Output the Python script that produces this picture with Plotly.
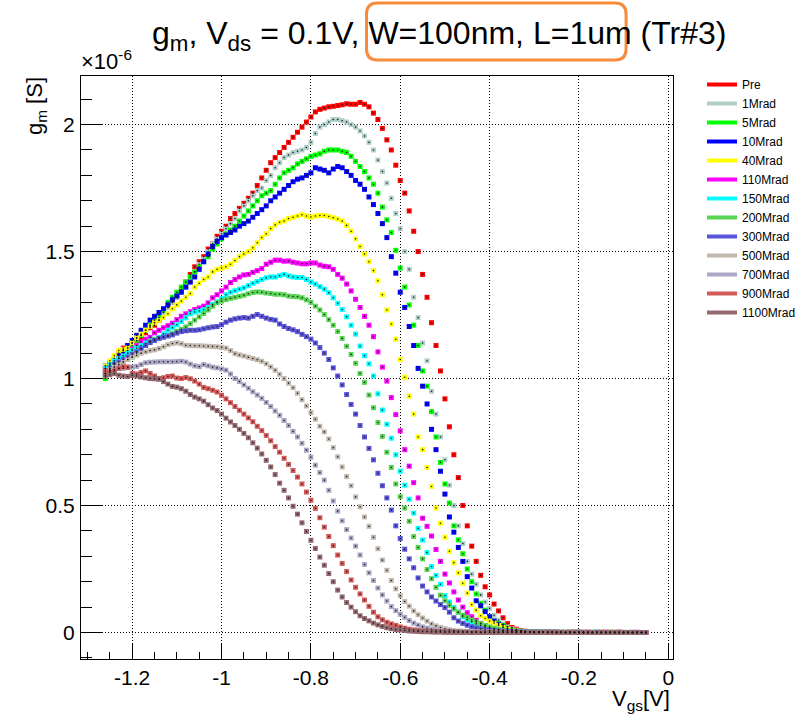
import plotly.graph_objects as go

# Gate-voltage sweep [V]
VGS = [
    -1.26, -1.25, -1.24, -1.23, -1.22, -1.21, -1.20, -1.19, -1.18, -1.17,
    -1.16, -1.15, -1.14, -1.13, -1.12, -1.11, -1.10, -1.09, -1.08, -1.07,
    -1.06, -1.05, -1.04, -1.03, -1.02, -1.01, -1.00, -0.99, -0.98, -0.97,
    -0.96, -0.95, -0.94, -0.93, -0.92, -0.91, -0.90, -0.89, -0.88, -0.87,
    -0.86, -0.85, -0.84, -0.83, -0.82, -0.81, -0.80, -0.79, -0.78, -0.77,
    -0.76, -0.75, -0.74, -0.73, -0.72, -0.71, -0.70, -0.69, -0.68, -0.67,
    -0.66, -0.65, -0.64, -0.63, -0.62, -0.61, -0.60, -0.59, -0.58, -0.57,
    -0.56, -0.55, -0.54, -0.53, -0.52, -0.51, -0.50, -0.49, -0.48, -0.47,
    -0.46, -0.45, -0.44, -0.43, -0.42, -0.41, -0.40, -0.39, -0.38, -0.37,
    -0.36, -0.35, -0.34, -0.33, -0.32, -0.31, -0.30, -0.29, -0.28, -0.27,
    -0.26, -0.25, -0.24, -0.23, -0.22, -0.21, -0.20, -0.19, -0.18, -0.17,
    -0.16, -0.15, -0.14, -0.13, -0.12, -0.11, -0.10, -0.09, -0.08, -0.07,
    -0.06, -0.05,
]

# Transconductance per dose step, in units of 1e-6 S
GM_PRE = [
    1.04, 1.06, 1.08, 1.10, 1.12, 1.13, 1.14, 1.15, 1.16, 1.18,
    1.20, 1.21, 1.23, 1.26, 1.28, 1.30, 1.32, 1.35, 1.38, 1.41,
    1.44, 1.46, 1.48, 1.51, 1.53, 1.56, 1.58, 1.60, 1.63, 1.65,
    1.67, 1.69, 1.71, 1.73, 1.76, 1.79, 1.82, 1.85, 1.87, 1.89,
    1.91, 1.93, 1.95, 1.97, 1.99, 2.01, 2.03, 2.05, 2.06, 2.065,
    2.07, 2.072, 2.075, 2.078, 2.082, 2.08, 2.08, 2.087, 2.08, 2.07,
    2.045, 2.02, 1.985, 1.94, 1.90, 1.84, 1.78, 1.73, 1.66, 1.58,
    1.50, 1.41, 1.32, 1.22, 1.13, 1.03, 0.92, 0.81, 0.70, 0.61,
    0.50, 0.42, 0.34, 0.28, 0.225, 0.18, 0.148, 0.112, 0.085, 0.058,
    0.035, 0.020, 0.013, 0.008, 0.005, 0.003, 0.002, 0.002, 0.001, 0.001,
    0.001, 0.001, 0.000, 0.001, 0.000, 0.001, 0.000, 0.000, 0.001, 0.000,
    0.000, 0.001, 0.000, 0.000, 0.000, 0.001, 0.000, 0.000, 0.000, 0.000,
    0.000, 0.000,
]
GM_1M = [
    1.02, 1.04, 1.06, 1.09, 1.11, 1.12, 1.14, 1.16, 1.17, 1.19,
    1.21, 1.22, 1.24, 1.26, 1.28, 1.30, 1.32, 1.34, 1.36, 1.38,
    1.42, 1.45, 1.47, 1.50, 1.53, 1.55, 1.57, 1.59, 1.61, 1.63,
    1.66, 1.68, 1.70, 1.72, 1.74, 1.75, 1.78, 1.80, 1.83, 1.85,
    1.87, 1.88, 1.89, 1.895, 1.90, 1.91, 1.93, 1.965, 1.99, 2.00,
    2.01, 2.02, 2.02, 2.015, 2.01, 2.00, 1.99, 1.975, 1.955, 1.93,
    1.90, 1.86, 1.815, 1.77, 1.71, 1.65, 1.59, 1.50, 1.43, 1.32,
    1.24, 1.14, 1.07, 0.95, 0.86, 0.77, 0.68, 0.58, 0.50, 0.42,
    0.35, 0.28, 0.23, 0.19, 0.148, 0.12, 0.095, 0.068, 0.048, 0.033,
    0.022, 0.014, 0.009, 0.006, 0.004, 0.003, 0.002, 0.002, 0.001, 0.001,
    0.001, 0.001, 0.001, 0.000, 0.001, 0.000, 0.000, 0.001, 0.000, 0.000,
    0.001, 0.000, 0.000, 0.000, 0.001, 0.000, 0.000, 0.000, 0.000, 0.000,
    0.000, 0.000,
]
GM_5M = [
    1.00, 1.03, 1.06, 1.08, 1.10, 1.11, 1.13, 1.15, 1.17, 1.19,
    1.21, 1.23, 1.25, 1.27, 1.30, 1.32, 1.34, 1.36, 1.38, 1.40,
    1.42, 1.44, 1.46, 1.48, 1.51, 1.53, 1.55, 1.57, 1.585, 1.60,
    1.62, 1.64, 1.66, 1.68, 1.70, 1.72, 1.73, 1.74, 1.765, 1.79,
    1.81, 1.82, 1.83, 1.845, 1.855, 1.865, 1.875, 1.88, 1.885, 1.895,
    1.90, 1.90, 1.90, 1.895, 1.89, 1.875, 1.855, 1.835, 1.815, 1.79,
    1.765, 1.73, 1.675, 1.625, 1.575, 1.505, 1.435, 1.36, 1.29, 1.21,
    1.13, 1.03, 0.97, 0.87, 0.77, 0.67, 0.585, 0.51, 0.42, 0.365,
    0.31, 0.25, 0.20, 0.152, 0.115, 0.088, 0.062, 0.045, 0.035, 0.028,
    0.018, 0.012, 0.008, 0.005, 0.004, 0.003, 0.002, 0.002, 0.001, 0.001,
    0.001, 0.000, 0.001, 0.001, 0.000, 0.000, 0.001, 0.000, 0.000, 0.001,
    0.000, 0.000, 0.000, 0.001, 0.000, 0.000, 0.000, 0.000, 0.000, 0.000,
    0.000, 0.000,
]
GM_10M = [
    1.05, 1.06, 1.07, 1.09, 1.11, 1.13, 1.15, 1.17, 1.19, 1.21,
    1.23, 1.245, 1.26, 1.275, 1.29, 1.31, 1.325, 1.34, 1.36, 1.38,
    1.40, 1.43, 1.46, 1.49, 1.52, 1.54, 1.555, 1.565, 1.575, 1.585,
    1.60, 1.61, 1.62, 1.635, 1.65, 1.665, 1.68, 1.70, 1.715, 1.73,
    1.745, 1.76, 1.775, 1.785, 1.79, 1.80, 1.81, 1.83, 1.825, 1.82,
    1.81, 1.825, 1.835, 1.83, 1.815, 1.80, 1.78, 1.765, 1.745, 1.715,
    1.685, 1.65, 1.61, 1.555, 1.48, 1.415, 1.34, 1.28, 1.205, 1.13,
    1.04, 0.97, 0.90, 0.80, 0.72, 0.635, 0.545, 0.455, 0.395, 0.335,
    0.28, 0.22, 0.175, 0.125, 0.105, 0.082, 0.062, 0.045, 0.032, 0.022,
    0.015, 0.010, 0.007, 0.005, 0.004, 0.003, 0.002, 0.002, 0.001, 0.001,
    0.001, 0.001, 0.000, 0.000, 0.001, 0.000, 0.001, 0.000, 0.000, 0.000,
    0.001, 0.000, 0.000, 0.000, 0.000, 0.001, 0.000, 0.000, 0.000, 0.000,
    0.000, 0.000,
]
GM_40M = [
    1.05, 1.07, 1.09, 1.11, 1.115, 1.12, 1.14, 1.16, 1.175, 1.19,
    1.205, 1.22, 1.23, 1.24, 1.255, 1.275, 1.29, 1.305, 1.32, 1.335,
    1.36, 1.375, 1.39, 1.40, 1.42, 1.43, 1.435, 1.44, 1.45, 1.465,
    1.48, 1.49, 1.50, 1.515, 1.535, 1.555, 1.57, 1.59, 1.605, 1.615,
    1.62, 1.63, 1.635, 1.64, 1.645, 1.64, 1.636, 1.64, 1.642, 1.642,
    1.638, 1.633, 1.628, 1.62, 1.603, 1.58, 1.55, 1.52, 1.49, 1.46,
    1.425, 1.385, 1.33, 1.27, 1.215, 1.155, 1.075, 1.005, 0.93, 0.86,
    0.77, 0.72, 0.65, 0.575, 0.49, 0.43, 0.375, 0.32, 0.275, 0.235,
    0.194, 0.155, 0.11, 0.088, 0.066, 0.055, 0.045, 0.037, 0.028, 0.020,
    0.014, 0.010, 0.007, 0.005, 0.004, 0.003, 0.002, 0.002, 0.001, 0.001,
    0.001, 0.000, 0.001, 0.000, 0.001, 0.000, 0.000, 0.001, 0.000, 0.000,
    0.000, 0.001, 0.000, 0.000, 0.000, 0.000, 0.001, 0.000, 0.000, 0.000,
    0.000, 0.000,
]
GM_110M = [
    1.04, 1.05, 1.07, 1.08, 1.09, 1.10, 1.115, 1.13, 1.145, 1.155,
    1.162, 1.18, 1.19, 1.20, 1.208, 1.218, 1.232, 1.245, 1.255, 1.263,
    1.272, 1.278, 1.285, 1.298, 1.318, 1.33, 1.345, 1.36, 1.378, 1.39,
    1.40, 1.408, 1.41, 1.418, 1.425, 1.433, 1.45, 1.458, 1.466, 1.466,
    1.462, 1.463, 1.458, 1.455, 1.452, 1.452, 1.455, 1.455, 1.447, 1.442,
    1.44, 1.43, 1.41, 1.395, 1.372, 1.345, 1.312, 1.28, 1.245, 1.21,
    1.165, 1.105, 1.045, 0.99, 0.925, 0.858, 0.794, 0.72, 0.655, 0.59,
    0.53, 0.45, 0.418, 0.38, 0.327, 0.28, 0.23, 0.195, 0.16, 0.128,
    0.10, 0.078, 0.062, 0.048, 0.036, 0.027, 0.020, 0.015, 0.011, 0.008,
    0.006, 0.005, 0.004, 0.003, 0.002, 0.002, 0.002, 0.001, 0.001, 0.001,
    0.001, 0.000, 0.001, 0.000, 0.000, 0.001, 0.000, 0.000, 0.001, 0.000,
    0.000, 0.000, 0.001, 0.000, 0.000, 0.000, 0.000, 0.000, 0.001, 0.000,
    0.000, 0.000,
]
GM_150M = [
    1.04, 1.055, 1.07, 1.08, 1.09, 1.10, 1.11, 1.12, 1.13, 1.14,
    1.148, 1.155, 1.162, 1.176, 1.19, 1.20, 1.212, 1.225, 1.24, 1.255,
    1.262, 1.266, 1.271, 1.28, 1.292, 1.302, 1.315, 1.33, 1.34, 1.346,
    1.352, 1.357, 1.366, 1.375, 1.382, 1.39, 1.397, 1.40, 1.40, 1.405,
    1.41, 1.404, 1.40, 1.398, 1.398, 1.39, 1.38, 1.372, 1.362, 1.352,
    1.338, 1.318, 1.296, 1.272, 1.243, 1.21, 1.175, 1.128, 1.09, 1.058,
    1.01, 0.94, 0.876, 0.82, 0.765, 0.70, 0.635, 0.58, 0.525, 0.47,
    0.41, 0.364, 0.315, 0.26, 0.225, 0.19, 0.145, 0.12, 0.098, 0.08,
    0.062, 0.05, 0.042, 0.034, 0.028, 0.022, 0.017, 0.013, 0.010, 0.008,
    0.006, 0.005, 0.004, 0.003, 0.002, 0.002, 0.001, 0.001, 0.001, 0.001,
    0.000, 0.001, 0.000, 0.001, 0.000, 0.000, 0.001, 0.000, 0.000, 0.000,
    0.001, 0.000, 0.000, 0.000, 0.000, 0.000, 0.000, 0.001, 0.000, 0.000,
    0.000, 0.000,
]
GM_200M = [
    1.01, 1.03, 1.045, 1.055, 1.065, 1.075, 1.085, 1.10, 1.115, 1.13,
    1.145, 1.152, 1.158, 1.163, 1.168, 1.177, 1.186, 1.194, 1.203, 1.216,
    1.23, 1.243, 1.256, 1.27, 1.285, 1.298, 1.305, 1.311, 1.316, 1.32,
    1.324, 1.328, 1.334, 1.339, 1.341, 1.34, 1.337, 1.335, 1.332, 1.332,
    1.33, 1.325, 1.323, 1.322, 1.318, 1.31, 1.30, 1.285, 1.27, 1.252,
    1.232, 1.21, 1.185, 1.158, 1.127, 1.095, 1.06, 1.02, 0.985, 0.935,
    0.885, 0.827, 0.772, 0.71, 0.65, 0.585, 0.535, 0.49, 0.438, 0.378,
    0.335, 0.29, 0.248, 0.212, 0.178, 0.147, 0.125, 0.107, 0.093, 0.08,
    0.068, 0.06, 0.05, 0.042, 0.035, 0.028, 0.022, 0.017, 0.013, 0.010,
    0.008, 0.006, 0.005, 0.004, 0.003, 0.002, 0.002, 0.001, 0.001, 0.001,
    0.001, 0.000, 0.001, 0.000, 0.000, 0.001, 0.000, 0.000, 0.000, 0.001,
    0.000, 0.000, 0.000, 0.000, 0.001, 0.000, 0.000, 0.000, 0.000, 0.000,
    0.000, 0.000,
]
GM_300M = [
    1.02, 1.04, 1.055, 1.065, 1.075, 1.085, 1.095, 1.105, 1.118, 1.13,
    1.142, 1.15, 1.158, 1.163, 1.168, 1.172, 1.179, 1.185, 1.188, 1.19,
    1.19, 1.192, 1.196, 1.20, 1.203, 1.205, 1.212, 1.222, 1.23, 1.235,
    1.238, 1.24, 1.238, 1.245, 1.252, 1.245, 1.238, 1.233, 1.23, 1.215,
    1.205, 1.197, 1.192, 1.185, 1.174, 1.165, 1.155, 1.14, 1.122, 1.10,
    1.075, 1.042, 1.01, 0.975, 0.937, 0.898, 0.86, 0.815, 0.77, 0.725,
    0.68, 0.627, 0.578, 0.53, 0.482, 0.42, 0.37, 0.328, 0.29, 0.255,
    0.215, 0.183, 0.16, 0.14, 0.124, 0.11, 0.098, 0.08, 0.058, 0.045,
    0.036, 0.029, 0.023, 0.018, 0.014, 0.011, 0.009, 0.007, 0.006, 0.005,
    0.004, 0.003, 0.003, 0.002, 0.002, 0.002, 0.001, 0.001, 0.001, 0.001,
    0.000, 0.001, 0.000, 0.000, 0.001, 0.000, 0.000, 0.001, 0.000, 0.000,
    0.000, 0.000, 0.001, 0.000, 0.000, 0.000, 0.000, 0.000, 0.000, 0.001,
    0.000, 0.000,
]
GM_500M = [
    1.02, 1.035, 1.045, 1.055, 1.065, 1.075, 1.085, 1.092, 1.10, 1.105,
    1.11, 1.113, 1.118, 1.125, 1.133, 1.138, 1.141, 1.137, 1.131, 1.13,
    1.129, 1.129, 1.128, 1.127, 1.126, 1.125, 1.123, 1.12, 1.11, 1.098,
    1.093, 1.089, 1.084, 1.079, 1.074, 1.068, 1.058, 1.046, 1.033, 1.017,
    1.00, 0.982, 0.964, 0.942, 0.917, 0.892, 0.866, 0.84, 0.812, 0.79,
    0.762, 0.728, 0.692, 0.652, 0.614, 0.578, 0.534, 0.495, 0.455, 0.418,
    0.375, 0.33, 0.285, 0.245, 0.205, 0.172, 0.145, 0.122, 0.104, 0.085,
    0.07, 0.057, 0.045, 0.034, 0.026, 0.020, 0.015, 0.011, 0.008, 0.006,
    0.005, 0.004, 0.003, 0.003, 0.002, 0.002, 0.002, 0.001, 0.001, 0.001,
    0.001, 0.001, 0.000, 0.001, 0.000, 0.001, 0.000, 0.000, 0.001, 0.000,
    0.000, 0.001, 0.000, 0.000, 0.000, 0.001, 0.000, 0.000, 0.000, 0.000,
    0.001, 0.000, 0.000, 0.000, 0.000, 0.000, 0.001, 0.000, 0.000, 0.000,
    0.000, 0.000,
]
GM_700M = [
    1.02, 1.03, 1.035, 1.04, 1.04, 1.043, 1.045, 1.048, 1.055, 1.062,
    1.064, 1.065, 1.066, 1.066, 1.066, 1.066, 1.067, 1.068, 1.065, 1.057,
    1.05, 1.047, 1.055, 1.05, 1.045, 1.042, 1.038, 1.033, 1.018, 1.00,
    0.988, 0.975, 0.962, 0.948, 0.935, 0.922, 0.906, 0.89, 0.872, 0.855,
    0.835, 0.815, 0.792, 0.77, 0.745, 0.718, 0.69, 0.659, 0.63, 0.60,
    0.56, 0.518, 0.478, 0.44, 0.405, 0.372, 0.34, 0.305, 0.268, 0.235,
    0.205, 0.175, 0.148, 0.124, 0.102, 0.086, 0.072, 0.06, 0.047, 0.037,
    0.029, 0.022, 0.017, 0.013, 0.010, 0.008, 0.006, 0.005, 0.004, 0.003,
    0.003, 0.002, 0.002, 0.002, 0.001, 0.001, 0.001, 0.001, 0.000, 0.001,
    0.000, 0.001, 0.000, 0.000, 0.001, 0.000, 0.000, 0.000, 0.001, 0.000,
    0.000, 0.000, 0.001, 0.000, 0.000, 0.000, 0.000, 0.001, 0.000, 0.000,
    0.000, 0.000, 0.000, 0.000, 0.001, 0.000, 0.000, 0.000, 0.000, 0.000,
    0.000, 0.000,
]
GM_900M = [
    1.03, 1.025, 1.03, 1.04, 1.047, 1.045, 1.02, 1.018, 1.024, 1.03,
    1.02, 1.01, 1.00, 1.003, 1.008, 1.01, 1.002, 1.00, 1.004, 0.999,
    0.99, 0.978, 0.965, 0.96, 0.954, 0.947, 0.934, 0.92, 0.905, 0.89,
    0.875, 0.86, 0.845, 0.83, 0.812, 0.795, 0.776, 0.755, 0.732, 0.71,
    0.686, 0.662, 0.638, 0.612, 0.585, 0.553, 0.521, 0.489, 0.452, 0.415,
    0.378, 0.342, 0.305, 0.272, 0.24, 0.207, 0.178, 0.152, 0.128, 0.103,
    0.08, 0.062, 0.05, 0.04, 0.034, 0.028, 0.022, 0.017, 0.013, 0.010,
    0.008, 0.006, 0.005, 0.004, 0.003, 0.003, 0.002, 0.002, 0.001, 0.001,
    0.001, 0.001, 0.000, 0.001, 0.000, 0.001, 0.000, 0.000, 0.001, 0.000,
    0.000, 0.001, 0.000, 0.000, 0.000, 0.001, 0.000, 0.000, 0.000, 0.000,
    0.001, 0.000, 0.000, 0.000, 0.000, 0.000, 0.001, 0.000, 0.000, 0.000,
    0.000, 0.000, 0.000, 0.001, 0.000, 0.000, 0.000, 0.000, 0.000, 0.000,
    0.000, 0.000,
]
GM_1100M = [
    1.01, 1.015, 1.02, 1.013, 1.01, 1.008, 1.012, 1.01, 1.006, 1.003,
    1.00, 0.999, 0.997, 0.988, 0.978, 0.969, 0.966, 0.96, 0.95, 0.937,
    0.927, 0.92, 0.911, 0.897, 0.884, 0.874, 0.86, 0.844, 0.829, 0.815,
    0.80, 0.784, 0.767, 0.747, 0.726, 0.703, 0.678, 0.652, 0.622, 0.588,
    0.56, 0.53, 0.497, 0.466, 0.432, 0.398, 0.363, 0.331, 0.297, 0.265,
    0.232, 0.20, 0.167, 0.14, 0.118, 0.10, 0.082, 0.066, 0.055, 0.046,
    0.037, 0.03, 0.024, 0.019, 0.015, 0.012, 0.010, 0.008, 0.006, 0.005,
    0.004, 0.003, 0.003, 0.002, 0.002, 0.002, 0.001, 0.001, 0.001, 0.001,
    0.000, 0.001, 0.000, 0.001, 0.000, 0.000, 0.001, 0.000, 0.000, 0.001,
    0.000, 0.000, 0.000, 0.001, 0.000, 0.000, 0.000, 0.000, 0.001, 0.000,
    0.000, 0.000, 0.000, 0.000, 0.000, 0.001, 0.000, 0.000, 0.000, 0.000,
    0.000, 0.001, 0.000, 0.000, 0.000, 0.000, 0.000, 0.000, 0.000, 0.000,
    0.000, 0.000,
]

SERIES_NAMES = ["Pre", "1Mrad", "5Mrad", "10Mrad", "40Mrad", "110Mrad", "150Mrad",
                "200Mrad", "300Mrad", "500Mrad", "700Mrad", "900Mrad", "1100Mrad"]
SERIES_VALUES = [GM_PRE, GM_1M, GM_5M, GM_10M, GM_40M, GM_110M, GM_150M,
                 GM_200M, GM_300M, GM_500M, GM_700M, GM_900M, GM_1100M]
SERIES_COLORS = ["#ff0000", "#b0cfc9", "#00ff00", "#0000ff", "#ffff00", "#ff00ff", "#00ffff",
                 "#59d454", "#5954d9", "#c2b8ae", "#aba6c3", "#d45a5a", "#946970"]

X_TICKS = [-1.2, -1.0, -0.8, -0.6, -0.4, -0.2, 0.0]
X_TICK_TEXT = ["-1.2", "-1", "-0.8", "-0.6", "-0.4", "-0.2", "0"]
Y_TICKS = [0.0, 0.5, 1.0, 1.5, 2.0]
Y_TICK_TEXT = ["0", "0.5", "1", "1.5", "2"]

for vals in SERIES_VALUES:
    assert len(vals) == len(VGS), len(vals)

# Canvas and frame geometry (pixels)
FIG_W, FIG_H = 812, 715
FRAME_L, FRAME_R, FRAME_T, FRAME_B = 81, 674, 76, 659
FONT = "Liberation Sans"


def px_x(px):
    return (px - FRAME_L) / (FRAME_R - FRAME_L)


def px_y(py):
    return (FRAME_B - py) / (FRAME_B - FRAME_T)


def rounded_box(x0, y0, x1, y1, r):
    """SVG path (paper coords) for a rounded rectangle given in pixels."""
    X = px_x
    Y = px_y
    return (
        f"M {X(x0 + r)},{Y(y0)} L {X(x1 - r)},{Y(y0)} "
        f"Q {X(x1)},{Y(y0)} {X(x1)},{Y(y0 + r)} "
        f"L {X(x1)},{Y(y1 - r)} Q {X(x1)},{Y(y1)} {X(x1 - r)},{Y(y1)} "
        f"L {X(x0 + r)},{Y(y1)} Q {X(x0)},{Y(y1)} {X(x0)},{Y(y1 - r)} "
        f"L {X(x0)},{Y(y0 + r)} Q {X(x0)},{Y(y0)} {X(x0 + r)},{Y(y0)} Z"
    )


fig = go.Figure()

# coloured boxes for every measured point
for name, vals, col in zip(SERIES_NAMES, SERIES_VALUES, SERIES_COLORS):
    fig.add_trace(go.Scatter(
        x=VGS, y=vals, mode="markers", showlegend=False, hoverinfo="skip",
        marker=dict(symbol="square", size=5, color=col, line=dict(width=0)),
    ))

# black point markers on top
all_x, all_y = [], []
for vals in SERIES_VALUES:
    all_x += VGS
    all_y += vals
fig.add_trace(go.Scatter(
    x=all_x, y=all_y, mode="markers", showlegend=False, hoverinfo="skip",
    marker=dict(symbol="circle", size=1.6, color="#1a1a1a", line=dict(width=0)),
))

# legend entries drawn as thick line samples
for name, col in zip(SERIES_NAMES, SERIES_COLORS):
    fig.add_trace(go.Scatter(
        x=[None], y=[None], mode="lines", name=name,
        line=dict(color=col, width=4),
    ))

axis_common = dict(
    showline=True, mirror=True, linecolor="black", linewidth=1,
    ticks="inside", tickcolor="black", tickwidth=1,
    showgrid=True, gridcolor="black", gridwidth=1, griddash="1px,2px",
    zeroline=False, tickfont=dict(family=FONT, size=21, color="black"),
    tickmode="array",
)

fig.update_xaxes(
    **axis_common,
    range=[-1.3146, 0.0105], tickvals=X_TICKS, ticktext=X_TICK_TEXT, ticklen=16,
    minor=dict(tickmode="linear", tick0=0, dtick=0.05, ticks="inside", ticklen=7,
               tickcolor="black", tickwidth=1, showgrid=False),
)
fig.update_yaxes(
    **axis_common,
    range=[-0.1043, 2.1913], tickvals=Y_TICKS, ticktext=Y_TICK_TEXT, ticklen=22,
    ticklabelstandoff=1,
    minor=dict(tickmode="linear", tick0=0, dtick=0.1, ticks="inside", ticklen=11,
               tickcolor="black", tickwidth=1, showgrid=False),
)

annotations = [
    dict(text="g<sub>m</sub>, V<sub>ds</sub> = 0.1V, W=100nm, L=1um (Tr#3)",
         x=px_x(440), y=px_y(35), xanchor="center", yanchor="middle",
         font=dict(family=FONT, size=32, color="black")),
    dict(text="\u00d710<sup>-6</sup>", x=px_x(79), y=px_y(76),
         xanchor="left", yanchor="bottom", font=dict(family=FONT, size=22, color="black")),
    dict(text="g<sub>m</sub> [S]", textangle=-90, x=px_x(36), y=px_y(75),
         xanchor="center", yanchor="top", font=dict(family=FONT, size=22, color="black")),
    dict(text="V<sub>gs</sub>[V]", x=px_x(673), y=px_y(684),
         xanchor="right", yanchor="top", font=dict(family=FONT, size=22, color="black")),
]
for a in annotations:
    a.update(xref="paper", yref="paper", showarrow=False)

fig.update_layout(
    width=FIG_W, height=FIG_H,
    margin=dict(l=FRAME_L, r=FIG_W - FRAME_R, t=FRAME_T, b=FIG_H - FRAME_B, pad=0),
    paper_bgcolor="white", plot_bgcolor="white",
    annotations=annotations,
    shapes=[dict(type="path", xref="paper", yref="paper",
                 path=rounded_box(367, 3, 627, 60, 11),
                 line=dict(color="#f68b3c", width=3), fillcolor="rgba(0,0,0,0)",
                 layer="above")],
    legend=dict(x=px_x(702), y=px_y(70), xanchor="left", yanchor="top",
                font=dict(family=FONT, size=12, color="black"),
                bgcolor="rgba(0,0,0,0)", borderwidth=0, tracegroupgap=0,
                itemwidth=30),
    hovermode=False,
)

fig.write_html("out.html")
